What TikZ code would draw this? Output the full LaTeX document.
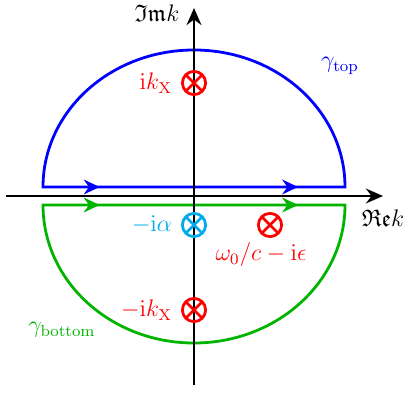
\documentclass[tikz,border=0pt]{standalone}
\usepackage{amsmath,amssymb}
\usepackage{tikz}
\usetikzlibrary{positioning,arrows.meta,decorations.markings}
\usepackage{xcolor}
\definecolor{contgreen}{RGB}{0,180,0}
\definecolor{polecyan}{RGB}{0,170,235}

\tikzset{
  pole/.style={circle,draw=#1,line width=1.4pt,minimum size=0.41cm,inner sep=0pt,
    path picture={\draw[#1,line width=1.4pt] (path picture bounding box.north west) -- (path picture bounding box.south east)
      (path picture bounding box.north east) -- (path picture bounding box.south west);}},
  pole/.default=red,
  flowarrows/.style={postaction={decorate},decoration={markings,
    mark=at position 1.0cm with {\arrow{Stealth[length=2.8mm,width=2.6mm]}},
    mark=at position 4.5cm with {\arrow{Stealth[length=2.8mm,width=2.6mm]}}}}
}

\begin{document}
\begin{tikzpicture}[x=0.882cm,y=0.882cm,>={Stealth[length=3mm,width=2.6mm]}]
\useasboundingbox (-3.88,-3.96) rectangle (4.20,3.92);
% contours
\draw[blue,line width=1.4pt,flowarrows] (-3.02,0.18) -- (3.02,0.18) arc[start angle=0,end angle=180,x radius=3.02,y radius=2.74] -- cycle;
\draw[contgreen,line width=1.4pt,flowarrows] (-3.02,-0.18) -- (3.02,-0.18) arc[start angle=0,end angle=-180,x radius=3.02,y radius=2.76] -- cycle;
% axes
\coordinate (re0) at (-3.76,0);
\coordinate (re1) at (3.78,0);
\coordinate (im0) at (0,-3.78);
\coordinate (im1) at (0,3.76);
\draw[->,line width=1.4pt] (re0) -- (re1);
\draw[->,line width=1.4pt] (im0) -- (im1);
\node[font=\large] (rek) at (3.78,-0.44) {$\mathfrak{Re}k$};
\node[font=\large] (imk) at (-0.74,3.66) {$\mathfrak{Im}k$};
% poles
\node[pole] (kx) at (0,2.26) {};
\node[pole=polecyan] (alpha) at (0,-0.58) {};
\node[pole] (w0) at (1.52,-0.58) {};
\node[pole] (mkx) at (0,-2.28) {};
\node[red,font=\large,left=1pt of kx] (kxlabel) {$\mathrm{i}k_{\mathrm{X}}$};
\node[polecyan,font=\large,left=1pt of alpha] (alphalabel) {$-\mathrm{i}\alpha$};
\node[red,font=\large] (w0label) at (1.34,-1.18) {$\omega_0/c-\mathrm{i}\epsilon$};
\node[red,font=\large,left=1pt of mkx] (mkxlabel) {$-\mathrm{i}k_{\mathrm{X}}$};
\node[blue,font=\large] (gtop) at (2.92,2.6) {$\gamma_{\mathrm{top}}$};
\node[contgreen,font=\large] (gbot) at (-2.64,-2.68) {$\gamma_{\mathrm{bottom}}$};
\end{tikzpicture}
\end{document}
